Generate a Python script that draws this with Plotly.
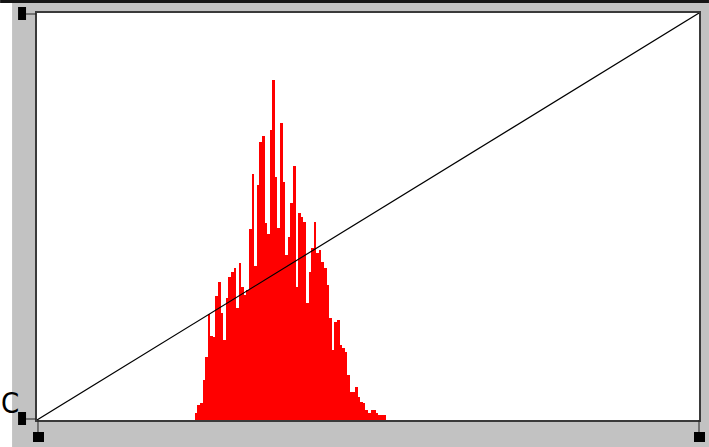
import plotly.graph_objects as go

# Histogram of channel levels (0-255) with the identity transfer curve on top.
levels = list(range(256))
first_level = 61
counts_nonzero = [
    7, 15, 17, 40, 63, 106, 84, 83, 124, 138,
    107, 80, 122, 143, 148, 152, 112, 157, 133, 125,
    130, 191, 246, 154, 235, 278, 284, 197, 186, 290,
    340, 243, 192, 297, 238, 165, 183, 217, 254, 133,
    207, 203, 198, 117, 148, 172, 198, 167, 170, 158,
    152, 135, 102, 70, 98, 100, 75, 72, 68, 45,
    28, 28, 33, 23, 18, 17, 10, 7, 10, 10,
    7, 5, 5, 5,
]
counts = [0] * 256
for k, v in enumerate(counts_nonzero):
    counts[first_level + k] = v

curve_in = [0, 255]
curve_out = [0, 255]

W, H = 709, 447
ML, MR, MT, MB = 37, 8, 13, 27
PW, PH = W - ML - MR, H - MT - MB


def px_x(p):
    return (p - ML) / PW


def px_y(p):
    return 1 - (p - MT) / PH


def rect(x0, x1, y0, y1, color):
    return dict(type="rect", xref="paper", yref="paper", layer="above",
                x0=px_x(x0), x1=px_x(x1), y0=px_y(y1), y1=px_y(y0),
                fillcolor=color, line=dict(width=0))


def seg(x0, y0, x1, y1, color="#222222"):
    return dict(type="line", xref="paper", yref="paper", layer="above",
                x0=px_x(x0), x1=px_x(x1), y0=px_y(y0), y1=px_y(y1),
                line=dict(color=color, width=1))


fig = go.Figure()
fig.add_trace(go.Bar(
    x=levels, y=counts, marker=dict(color="#ff0000", line=dict(width=0)),
    hoverinfo="skip", showlegend=False,
))
fig.add_trace(go.Scatter(
    x=curve_in, y=curve_out, mode="lines", xaxis="x2", yaxis="y2",
    line=dict(color="#000000", width=1.2), hoverinfo="skip", showlegend=False,
))

shapes = [
    # grey dialog frame
    dict(type="rect", xref="paper", yref="paper", layer="below",
         x0=px_x(12), x1=px_x(W + 2), y0=px_y(H + 2), y1=px_y(3),
         fillcolor="#c2c2c2", line=dict(width=0)),
    # dark strip along the top edge
    dict(type="rect", xref="paper", yref="paper", layer="below",
         x0=px_x(0), x1=px_x(W + 2), y0=px_y(3), y1=px_y(-2),
         fillcolor="#151515", line=dict(width=0)),
    # white plotting well
    dict(type="rect", xref="paper", yref="paper", layer="below",
         x0=0, x1=1, y0=0, y1=1, fillcolor="#ffffff", line=dict(width=0)),
]

# input handles (black point / white point) below the well
for xp in (ML + 1, ML + PW):
    shapes.append(seg(xp, MT + PH, xp, MT + PH + 12))
    shapes.append(rect(xp - 5, xp + 6, MT + PH + 12, MT + PH + 22, "#000000"))
# output handles at the left of the well
for yp in (MT + PH - 1, MT + 1):
    shapes.append(seg(26, yp, ML - 1, yp))
    shapes.append(rect(18, 26, yp - 7, yp + 6, "#000000"))

axis_common = dict(showgrid=False, zeroline=False, showticklabels=False,
                   ticks="", fixedrange=True)

fig.update_layout(
    width=W, height=H,
    margin=dict(l=ML, r=MR, t=MT, b=MB, pad=0),
    paper_bgcolor="#ffffff", plot_bgcolor="#ffffff",
    bargap=0,
    xaxis=dict(range=[-0.5, 255.5], showline=True, mirror=True,
               linecolor="#3a3a3a", linewidth=2, **axis_common),
    yaxis=dict(range=[0, PH], showline=True, mirror=True,
               linecolor="#3a3a3a", linewidth=2, **axis_common),
    xaxis2=dict(range=[0, 255], overlaying="x", visible=False, **axis_common),
    yaxis2=dict(range=[0, 255], overlaying="y", visible=False, **axis_common),
    shapes=shapes,
    annotations=[dict(
        text="C", xref="paper", yref="paper", x=px_x(-1), y=px_y(403),
        xanchor="left", yanchor="middle", showarrow=False,
        font=dict(family="Liberation Sans Narrow, DejaVu Sans Condensed, Liberation Sans",
                  size=29, color="#000000"),
    )],
)

fig.write_html("out.html")
